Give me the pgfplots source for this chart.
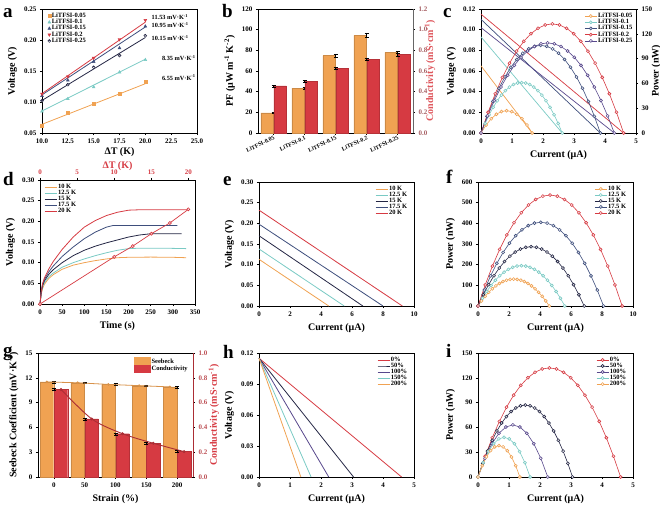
\documentclass[border=0pt]{standalone}
\usepackage{pgfplots}
\pgfplotsset{compat=1.18}
\usepackage{fontspec}
\setmainfont{Liberation Serif}
\usetikzlibrary{plotmarks}

\definecolor{Cor}{RGB}{240,162,82}
\definecolor{Cred}{RGB}{214,58,66}
\definecolor{Ccy}{RGB}{122,202,196}
\definecolor{Cnv}{RGB}{36,38,68}
\definecolor{Cbl}{RGB}{62,78,124}
\definecolor{Cpu}{RGB}{88,72,140}

\tikzset{lab/.style={font=\fontsize{19}{19}\selectfont\bfseries, anchor=base west, inner sep=0pt}}
\pgfplotsset{
  panel/.style={
    scale only axis, width=155pt, height=124pt, anchor=north west,
    axis line style={line width=0.6pt},
    every tick/.style={black, line width=0.5pt},
    major tick length=2.2pt,
    tick align=outside,
    xtick pos=left, ytick pos=left,
    clip=false,
    /pgf/number format/assume math mode=true,
    tick label style={font=\fontsize{7}{8}\selectfont\bfseries},
    label style={font=\fontsize{10}{11}\selectfont\bfseries},
    legend style={draw=none, fill=none, font=\fontsize{6.5}{7}\selectfont\bfseries,
      row sep=-1.8pt, inner sep=1pt, nodes={inner sep=1pt}},
    legend cell align=left,
    legend image code/.code={\draw[mark repeat=2,mark phase=2,##1] plot coordinates {(0pt,0pt) (6pt,0pt) (12pt,0pt)};},
  },
  rlab/.style={ylabel style={at={(rel axis cs:#1,0.5)}, anchor=center}},
  y2dec/.style={yticklabel style={/pgf/number format/fixed,/pgf/number format/fixed zerofill,/pgf/number format/precision=2}},
  y1dec/.style={yticklabel style={/pgf/number format/fixed,/pgf/number format/fixed zerofill,/pgf/number format/precision=1}},
  pw/.style={line width=0.6pt, mark=halfcircle*, mark size=1.5pt, mark options={solid, fill=white}},
}

\begin{document}
\begin{tikzpicture}
\path[use as bounding box] (0,0) rectangle (660pt,-506pt);

% ---------- panel letters
\node[lab] at (3pt,-17pt) {a};
\node[lab] at (222pt,-17pt) {b};
\node[lab] at (443pt,-17pt) {c};
\node[lab] at (3pt,-185pt) {d};
\node[lab] at (223pt,-185pt) {e};
\node[lab] at (446pt,-183pt) {f};
\node[lab] at (3pt,-356pt) {g};
\node[lab] at (223pt,-358pt) {h};
\node[lab] at (446pt,-357pt) {i};

% ---------- a
\begin{axis}[panel, at={(42pt,-9pt)},
  xmin=10, xmax=25, ymin=0.05, ymax=0.25,
  xtick={10,12.5,15,17.5,20,22.5,25}, ytick={0.05,0.10,0.15,0.20,0.25},
  xticklabel style={/pgf/number format/fixed,/pgf/number format/fixed zerofill,/pgf/number format/precision=1},
  y2dec,
  xlabel={ΔT (K)}, xlabel shift=-2.5pt, ylabel={Voltage (V)},
  legend style={at={(0.03,0.985)}, anchor=north west}]
\addplot[Cor, only marks, mark=square*, mark size=1.4pt] coordinates {(10,0.062)(12.5,0.083)(15,0.097)(17.5,0.113)(20,0.133)};
\addlegendentry{LiTFSI-0.05}
\addplot[Ccy, only marks, mark=triangle*, mark size=1.7pt] coordinates {(10,0.085)(12.5,0.105)(15,0.124)(17.5,0.148)(20,0.168)};
\addlegendentry{LiTFSI-0.1}
\addplot[Cbl, only marks, mark=triangle*, mark size=1.7pt] coordinates {(10,0.110)(12.5,0.135)(15,0.165)(17.5,0.187)(20,0.222)};
\addlegendentry{LiTFSI-0.15}
\addplot[Cred, only marks, mark=triangle*, mark size=1.7pt, mark options={rotate=180}] coordinates {(10,0.113)(12.5,0.141)(15,0.171)(17.5,0.201)(20,0.232)};
\addlegendentry{LiTFSI-0.2}
\addplot[Cnv, only marks, mark=halfcircle*, mark size=1.5pt] coordinates {(10,0.102)(12.5,0.128)(15,0.156)(17.5,0.175)(20,0.207)};
\addlegendentry{LiTFSI-0.25}
\addplot[Cor, line width=0.8pt, forget plot] coordinates {(10,0.0640)(20,0.1295)};
\addplot[Ccy, line width=0.8pt, forget plot] coordinates {(10,0.0855)(20,0.1690)};
\addplot[Cbl, line width=0.8pt, forget plot] coordinates {(10,0.1115)(20,0.2210)};
\addplot[Cred, line width=0.8pt, forget plot] coordinates {(10,0.1135)(20,0.2288)};
\addplot[Cnv, line width=0.8pt, forget plot] coordinates {(10,0.1025)(20,0.2040)};
\begin{scope}[every node/.style={anchor=west, font=\fontsize{6.3}{7}\selectfont\bfseries, inner sep=0pt}]
\node at (axis cs:20.6,0.237) {11.53 mV·K\textsuperscript{-1}};
\node at (axis cs:20.6,0.224) {10.95 mV·K\textsuperscript{-1}};
\node at (axis cs:20.6,0.203) {10.15 mV·K\textsuperscript{-1}};
\node at (axis cs:21.6,0.171) {8.35 mV·K\textsuperscript{-1}};
\node at (axis cs:21.6,0.139) {6.55 mV·K\textsuperscript{-1}};
\end{scope}
\end{axis}

% ---------- b
\begin{axis}[panel, at={(258pt,-9pt)},
  xmin=-0.5, xmax=4.5, ymin=0, ymax=120, ytick={0,20,40,60,80,100,120},
  xtick={0,1,2,3,4}, xticklabels={LiTFSI-0.05,LiTFSI-0.1,LiTFSI-0.15,LiTFSI-0.2,LiTFSI-0.25},
  xticklabel style={rotate=25, anchor=north east, inner sep=0.3pt, font=\fontsize{5.8}{6}\selectfont\bfseries},
  axis y line*=left,
  ylabel={PF (μW m\textsuperscript{-1} K\textsuperscript{-2})}]
\addplot[ybar, bar width=12.5pt, bar shift=-6.5pt, fill=Cor, draw=Cor!85!black, line width=0.3pt,
  error bars/.cd, y dir=both, y explicit, error bar style={black, line width=0.4pt}]
  coordinates {(0,19.5)+-(0,0.8) (1,43.5)+-(0,0.8) (2,75)+-(0,1.5) (3,94.5)+-(0,1.8) (4,78)+-(0,1.2)};
\end{axis}
\begin{axis}[panel, at={(258pt,-9pt)},
  xmin=-0.5, xmax=4.5, ymin=0, ymax=1.2, ytick={0,0.2,0.4,0.6,0.8,1.0,1.2}, y1dec,
  axis y line*=right, axis x line=none, ytick pos=right,
  y axis line style={gray!80!black},
  ylabel={Conductivity (mS·cm\textsuperscript{-1})}, ylabel style={text=Cred!80!pink}, rlab=1.11,
  yticklabel style={text=Cred!45!gray}]
\addplot[ybar, bar width=12.5pt, bar shift=6.5pt, fill=Cred, draw=Cred!85!black, line width=0.3pt,
  error bars/.cd, y dir=both, y explicit, error bar style={black, line width=0.4pt}]
  coordinates {(0,0.455)+-(0,0.008) (1,0.50)+-(0,0.008) (2,0.625)+-(0,0.012) (3,0.715)+-(0,0.012) (4,0.76)+-(0,0.012)};
\end{axis}

% ---------- c
\begin{axis}[panel, at={(481pt,-9pt)},
  xmin=0, xmax=5, ymin=0, ymax=0.12, xtick={0,1,2,3,4,5},
  ytick={0,0.02,0.04,0.06,0.08,0.10,0.12}, y2dec, axis y line*=left,
  xlabel={Current (μA)}, ylabel={Voltage (V)}]
\addplot[Cor, line width=0.7pt] coordinates {(0,0.065)(1.65,0)};
\addplot[Ccy, line width=0.7pt] coordinates {(0,0.093)(2.62,0)};
\addplot[Cbl, line width=0.7pt] coordinates {(0,0.110)(3.85,0)};
\addplot[Cpu, line width=0.7pt] coordinates {(0,0.102)(4.3,0)};
\addplot[Cred, line width=0.7pt] coordinates {(0,0.115)(4.6,0)};
\end{axis}
\begin{axis}[panel, at={(481pt,-9pt)},
  xmin=0, xmax=5, ymin=0, ymax=150, ytick={0,30,60,90,120,150},
  axis y line*=right, axis x line=none, ytick pos=right,
  ylabel={Power (nW)}, rlab=1.13,
  legend style={at={(0.99,0.985)}, anchor=north east}]
\addplot[Cor, pw] coordinates {(0,0)(0.165,9.7)(0.33,17.3)(0.495,22.7)(0.66,25.9)(0.825,27)(0.99,25.9)(1.155,22.7)(1.32,17.3)(1.485,9.7)(1.65,0)};
\addlegendentry{LiTFSI-0.05}
\addplot[Ccy, pw] coordinates {(0,0)(0.131,11.6)(0.262,22.0)(0.393,31.1)(0.524,39.0)(0.655,45.8)(0.786,51.2)(0.917,55.5)(1.048,58.6)(1.179,60.4)(1.31,61)(1.441,60.4)(1.572,58.6)(1.703,55.5)(1.834,51.2)(1.965,45.8)(2.096,39.0)(2.227,31.1)(2.358,22.0)(2.489,11.6)(2.62,0)};
\addlegendentry{LiTFSI-0.1}
\addplot[Cbl, pw] coordinates {(0,0)(0.1925,20.1)(0.385,38.2)(0.5775,54.1)(0.77,67.8)(0.9625,79.5)(1.155,89.0)(1.3475,96.5)(1.54,101.8)(1.7325,104.9)(1.925,106)(2.1175,104.9)(2.31,101.8)(2.5025,96.5)(2.695,89.0)(2.8875,79.5)(3.08,67.8)(3.2725,54.1)(3.465,38.2)(3.6575,20.1)(3.85,0)};
\addlegendentry{LiTFSI-0.15}
\addplot[Cred, pw] coordinates {(0,0)(0.23,25.1)(0.46,47.5)(0.69,67.3)(0.92,84.5)(1.15,99)(1.38,110.9)(1.61,120.1)(1.84,126.7)(2.07,130.7)(2.3,132)(2.53,130.7)(2.76,126.7)(2.99,120.1)(3.22,110.9)(3.45,99)(3.68,84.5)(3.91,67.3)(4.14,47.5)(4.37,25.1)(4.6,0)};
\addlegendentry{LiTFSI-0.2}
\addplot[Cpu, pw] coordinates {(0,0)(0.215,20.7)(0.43,39.2)(0.645,55.6)(0.86,69.8)(1.075,81.8)(1.29,91.6)(1.505,99.2)(1.72,104.6)(1.935,107.9)(2.15,109)(2.365,107.9)(2.58,104.6)(2.795,99.2)(3.01,91.6)(3.225,81.8)(3.44,69.8)(3.655,55.6)(3.87,39.2)(4.085,20.7)(4.3,0)};
\addlegendentry{LiTFSI-0.25}
\end{axis}

% ---------- d
\begin{axis}[panel, at={(40pt,-180pt)},
  xmin=0, xmax=350, ymin=0, ymax=0.30, xtick={0,50,100,150,200,250,300,350},
  ytick={0,0.05,0.10,0.15,0.20,0.25,0.30}, y2dec, axis x line*=bottom,
  xlabel={Time (s)}, ylabel={Voltage (V)},
  legend style={at={(0.02,0.985)}, anchor=north west}]
\addplot[Cor, line width=0.8pt] coordinates {(0,0)(3,0.025)(6,0.038)(10,0.048)(20,0.062)(30,0.071)(50,0.084)(75,0.094)(100,0.100)(125,0.105)(150,0.109)(175,0.112)(200,0.113)(250,0.1135)(300,0.113)(330,0.112)};
\addlegendentry{10 K}
\addplot[Ccy, line width=0.8pt] coordinates {(0,0)(3,0.028)(6,0.042)(10,0.052)(20,0.066)(30,0.075)(50,0.089)(75,0.100)(100,0.109)(125,0.117)(150,0.124)(175,0.130)(200,0.134)(225,0.135)(280,0.135)(330,0.134)};
\addlegendentry{12.5 K}
\addplot[Cnv, line width=0.8pt] coordinates {(0,0)(3,0.030)(6,0.045)(10,0.056)(20,0.072)(30,0.083)(50,0.100)(75,0.117)(100,0.130)(125,0.140)(150,0.148)(175,0.155)(200,0.162)(225,0.167)(250,0.170)(320,0.170)};
\addlegendentry{15 K}
\addplot[Cbl, line width=0.8pt] coordinates {(0,0)(3,0.032)(6,0.048)(10,0.060)(20,0.078)(30,0.092)(50,0.115)(75,0.138)(100,0.158)(125,0.174)(150,0.186)(165,0.190)(200,0.190)(310,0.190)};
\addlegendentry{17.5 K}
\addplot[Cred, line width=0.8pt] coordinates {(0,0)(3,0.033)(6,0.050)(10,0.063)(20,0.085)(30,0.103)(50,0.132)(75,0.162)(100,0.186)(125,0.202)(150,0.214)(175,0.222)(200,0.227)(225,0.228)(335,0.228)};
\addlegendentry{20 K}
\end{axis}
\begin{axis}[panel, at={(40pt,-180pt)},
  xmin=0, xmax=20.896, ymin=0, ymax=0.30, xtick={0,5,10,15,20},
  axis x line*=top, axis y line=none, xtick pos=right,
  xlabel={ΔT (K)}, xlabel style={text=Cred}, xlabel shift=-7.5pt, xticklabel style={text=Cred}]
\addplot[Cred, pw, line width=0.7pt] coordinates {(0,0)(10,0.114)(12.5,0.140)(15,0.170)(17.5,0.196)(20,0.229)};
\end{axis}

% ---------- e
\begin{axis}[panel, at={(259pt,-182pt)},
  xmin=0, xmax=10, ymin=0, ymax=0.30, xtick={0,2,4,6,8,10},
  ytick={0,0.05,0.10,0.15,0.20,0.25,0.30}, y2dec,
  xlabel={Current (μA)}, ylabel={Voltage (V)},
  legend style={at={(0.97,0.985)}, anchor=north east}]
\addplot[Cor, line width=0.8pt] coordinates {(0,0.113)(4.5,0)};
\addlegendentry{10 K}
\addplot[Ccy, line width=0.8pt] coordinates {(0,0.138)(5.5,0)};
\addlegendentry{12.5 K}
\addplot[Cnv, line width=0.8pt] coordinates {(0,0.170)(6.7,0)};
\addlegendentry{15 K}
\addplot[Cbl, line width=0.8pt] coordinates {(0,0.198)(8.0,0)};
\addlegendentry{17.5 K}
\addplot[Cred, line width=0.8pt] coordinates {(0,0.232)(9.25,0)};
\addlegendentry{20 K}
\end{axis}

% ---------- f
\begin{axis}[panel, at={(478pt,-182pt)},
  xmin=0, xmax=10, ymin=0, ymax=600, xtick={0,2,4,6,8,10},
  ytick={0,100,200,300,400,500,600},
  xlabel={Current (μA)}, ylabel={Power (nW)},
  legend style={at={(0.97,0.985)}, anchor=north east}]
\addplot[Cor, pw] coordinates {(0,0)(0.23,24.7)(0.46,46.8)(0.69,66.3)(0.92,83.2)(1.15,97.5)(1.38,109.2)(1.61,118.3)(1.84,124.8)(2.07,128.7)(2.3,130)(2.53,128.7)(2.76,124.8)(2.99,118.3)(3.22,109.2)(3.45,97.5)(3.68,83.2)(3.91,66.3)(4.14,46.8)(4.37,24.7)(4.6,0)};
\addlegendentry{10 K}
\addplot[Ccy, pw] coordinates {(0,0)(0.28,37.1)(0.56,70.2)(0.84,99.5)(1.12,124.8)(1.4,146.3)(1.68,163.8)(1.96,177.5)(2.24,187.2)(2.52,193.1)(2.8,195)(3.08,193.1)(3.36,187.2)(3.64,177.5)(3.92,163.8)(4.2,146.3)(4.48,124.8)(4.76,99.5)(5.04,70.2)(5.32,37.1)(5.6,0)};
\addlegendentry{12.5 K}
\addplot[Cnv, pw] coordinates {(0,0)(0.3425,54.5)(0.685,103.3)(1.0275,146.4)(1.37,183.7)(1.7125,215.3)(2.055,241.1)(2.3975,261.2)(2.74,275.5)(3.0825,284.1)(3.425,287)(3.7675,284.1)(4.11,275.5)(4.4525,261.2)(4.795,241.1)(5.1375,215.3)(5.48,183.7)(5.8225,146.4)(6.165,103.3)(6.5075,54.5)(6.85,0)};
\addlegendentry{15 K}
\addplot[Cbl, pw] coordinates {(0,0)(0.405,77.0)(0.81,145.8)(1.215,206.6)(1.62,259.2)(2.025,303.8)(2.43,340.2)(2.835,368.6)(3.24,388.8)(3.645,401.0)(4.05,405)(4.455,401.0)(4.86,388.8)(5.265,368.6)(5.67,340.2)(6.075,303.8)(6.48,259.2)(6.885,206.6)(7.29,145.8)(7.695,77.0)(8.1,0)};
\addlegendentry{17.5 K}
\addplot[Cred, pw] coordinates {(0,0)(0.465,102.0)(0.93,193.3)(1.395,273.9)(1.86,343.7)(2.325,402.8)(2.79,451.1)(3.255,488.7)(3.72,515.5)(4.185,531.6)(4.65,537)(5.115,531.6)(5.58,515.5)(6.045,488.7)(6.51,451.1)(6.975,402.8)(7.44,343.7)(7.905,273.9)(8.37,193.3)(8.835,102.0)(9.3,0)};
\addlegendentry{20 K}
\end{axis}

% ---------- g
\begin{axis}[panel, at={(38pt,-353pt)},
  xmin=-26, xmax=226, ymin=0, ymax=15, xtick={0,50,100,150,200},
  ytick={0,3,6,9,12,15}, axis y line*=left,
  xlabel={Strain (\%)}, ylabel={Seebeck Coefficient (mV·K\textsuperscript{-1})}]
\addplot[ybar, bar width=13.5pt, bar shift=-7pt, fill=Cor, draw=Cor!85!black, line width=0.3pt,
  error bars/.cd, y dir=both, y explicit, error bar style={black, line width=0.4pt}]
  coordinates {(0,11.5)+-(0,0.1) (50,11.4)+-(0,0.1) (100,11.2)+-(0,0.1) (150,11.05)+-(0,0.1) (200,10.9)+-(0,0.1)};
\addplot[Cor!90!black, line width=0.8pt, mark=*, mark size=0.9pt] coordinates {(-11.5,11.5)(38.5,11.4)(88.5,11.2)(138.5,11.05)(188.5,10.9)};
\end{axis}
\begin{axis}[panel, at={(38pt,-353pt)},
  xmin=-26, xmax=226, ymin=0, ymax=1.0, ytick={0,0.2,0.4,0.6,0.8,1.0}, y1dec,
  axis y line*=right, axis x line=none, ytick pos=right,
  y axis line style={Cred!80!black},
  ylabel={Conductivity (mS·cm\textsuperscript{-1})}, ylabel style={text=Cred}, rlab=1.135,
  yticklabel style={text=Cred!70!gray},
  legend style={at={(0.98,0.975)}, anchor=north east, row sep=-1.2pt},
  legend image code/.code={\draw[#1] (0pt,-3.6pt) rectangle (16pt,4.2pt);}]
\addlegendimage{fill=Cor, draw=Cor}
\addlegendentry{Seebeck}
\addlegendimage{fill=Cred, draw=Cred}
\addlegendentry{Conductivity}
\addplot[ybar, bar width=13.5pt, bar shift=7pt, fill=Cred, draw=Cred!85!black, line width=0.3pt, forget plot,
  error bars/.cd, y dir=both, y explicit, error bar style={black, line width=0.4pt}]
  coordinates {(0,0.706)+-(0,0.008) (50,0.468)+-(0,0.008) (100,0.349)+-(0,0.008) (150,0.272)+-(0,0.008) (200,0.205)+-(0,0.008)};
\addplot[Cred!80!black, line width=0.9pt, smooth, mark=*, mark size=1pt, forget plot] coordinates {(11.5,0.706)(61.5,0.468)(111.5,0.349)(161.5,0.272)(211.5,0.205)};
\end{axis}

% ---------- h
\begin{axis}[panel, at={(259pt,-353pt)},
  xmin=0, xmax=5, ymin=0, ymax=0.12, xtick={0,1,2,3,4,5},
  ytick={0,0.03,0.06,0.09,0.12}, y2dec,
  xlabel={Current (μA)}, ylabel={Voltage (V)},
  legend style={at={(0.97,0.985)}, anchor=north east}]
\addplot[Cred, line width=0.8pt] coordinates {(0,0.115)(4.6,0)};
\addlegendentry{0\%}
\addplot[Cnv, line width=0.8pt] coordinates {(0,0.115)(3.05,0)};
\addlegendentry{50\%}
\addplot[Cpu, line width=0.8pt] coordinates {(0,0.115)(2.25,0)};
\addlegendentry{100\%}
\addplot[Ccy, line width=0.8pt] coordinates {(0,0.115)(1.68,0)};
\addlegendentry{150\%}
\addplot[Cor, line width=0.8pt] coordinates {(0,0.115)(1.35,0)};
\addlegendentry{200\%}
\end{axis}

% ---------- i
\begin{axis}[panel, at={(478pt,-353pt)},
  xmin=0, xmax=5, ymin=0, ymax=150, xtick={0,1,2,3,4,5},
  ytick={0,30,60,90,120,150},
  xlabel={Current (μA)}, ylabel={Power (nW)},
  legend style={at={(0.97,0.985)}, anchor=north east}]
\addplot[Cred, pw] coordinates {(0,0)(0.23,25.1)(0.46,47.5)(0.69,67.3)(0.92,84.5)(1.15,99)(1.38,110.9)(1.61,120.1)(1.84,126.7)(2.07,130.7)(2.3,132)(2.53,130.7)(2.76,126.7)(2.99,120.1)(3.22,110.9)(3.45,99)(3.68,84.5)(3.91,67.3)(4.14,47.5)(4.37,25.1)(4.6,0)};
\addlegendentry{0\%}
\addplot[Cnv, pw] coordinates {(0,0)(0.1525,16.5)(0.305,31.3)(0.4575,44.4)(0.61,55.7)(0.7625,65.3)(0.915,73.1)(1.0675,79.2)(1.22,83.5)(1.3725,86.1)(1.525,87)(1.6775,86.1)(1.83,83.5)(1.9825,79.2)(2.135,73.1)(2.2875,65.3)(2.44,55.7)(2.5925,44.4)(2.745,31.3)(2.8975,16.5)(3.05,0)};
\addlegendentry{50\%}
\addplot[Cpu, pw] coordinates {(0,0)(0.225,22.7)(0.45,40.3)(0.675,52.9)(0.9,60.5)(1.125,63)(1.35,60.5)(1.575,52.9)(1.8,40.3)(2.025,22.7)(2.25,0)};
\addlegendentry{100\%}
\addplot[Ccy, pw] coordinates {(0,0)(0.168,17.3)(0.336,30.7)(0.504,40.3)(0.672,46.1)(0.84,48)(1.008,46.1)(1.176,40.3)(1.344,30.7)(1.512,17.3)(1.68,0)};
\addlegendentry{150\%}
\addplot[Cor, pw] coordinates {(0,0)(0.135,13.7)(0.27,24.3)(0.405,31.9)(0.54,36.5)(0.675,38)(0.81,36.5)(0.945,31.9)(1.08,24.3)(1.215,13.7)(1.35,0)};
\addlegendentry{200\%}
\end{axis}

\end{tikzpicture}
\end{document}
